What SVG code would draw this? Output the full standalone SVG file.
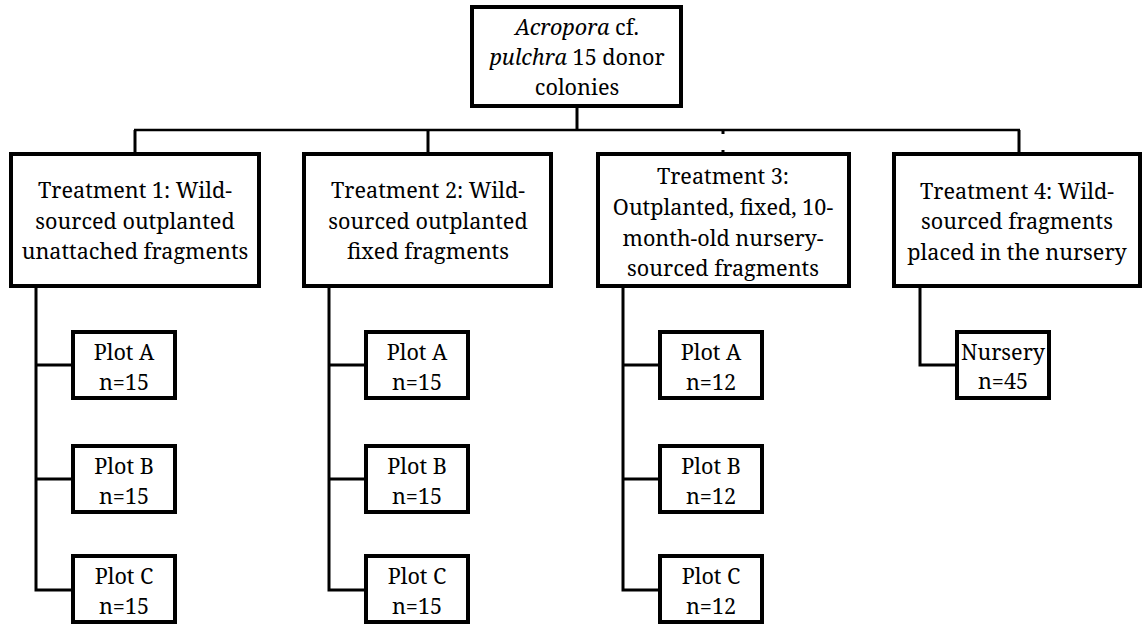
<svg xmlns="http://www.w3.org/2000/svg" width="1143" height="627" viewBox="0 0 1143 627">
<style>
.box{fill:#fff;stroke:#000;stroke-width:4}
.t{font-family:'Noto Serif','Liberation Serif','Times New Roman',serif;font-size:21.6px;fill:#000;text-anchor:middle}
.i{font-style:italic}
.c{fill:none;stroke:#000;stroke-width:3}
.h{fill:none;stroke:#000;stroke-width:2.5}
</style>
<rect width="1143" height="627" fill="#fff"/>
<g id="connectors">
<line class="c" x1="577" y1="106" x2="577" y2="131"/>
<line class="h" x1="134" y1="130" x2="1020" y2="130"/>
<line class="c" x1="135" y1="130" x2="135" y2="154"/>
<line class="c" x1="428" y1="130" x2="428" y2="154"/>
<line class="c" x1="723" y1="130" x2="723" y2="134"/>
<line class="c" x1="723" y1="150" x2="723" y2="154"/>
<line class="c" x1="1019" y1="130" x2="1019" y2="154"/>
<polyline class="c" points="36,286 36,590 73,590"/>
<line class="c" x1="36" y1="365" x2="73" y2="365"/>
<line class="c" x1="36" y1="479" x2="73" y2="479"/>
<polyline class="c" points="329,286 329,590 366,590"/>
<line class="c" x1="329" y1="365" x2="366" y2="365"/>
<line class="c" x1="329" y1="479" x2="366" y2="479"/>
<polyline class="c" points="623,286 623,590 660,590"/>
<line class="c" x1="623" y1="365" x2="660" y2="365"/>
<line class="c" x1="623" y1="479" x2="660" y2="479"/>
<polyline class="c" points="920,286 920,365 957,365"/>
</g>
<g id="root">
<rect class="box" x="472" y="7" width="209" height="99"/>
<text class="t" x="577" y="35"><tspan class="i">Acropora</tspan> cf.</text>
<text class="t" x="577" y="65"><tspan class="i">pulchra</tspan> 15 donor</text>
<text class="t" x="577" y="95">colonies</text>
</g>
<g id="treatment1">
<rect class="box" x="11" y="154" width="248" height="132"/>
<text class="t" x="135" y="198">Treatment 1: Wild-</text>
<text class="t" x="135" y="229">sourced outplanted</text>
<text class="t" x="135" y="259">unattached fragments</text>
</g>
<g id="treatment2">
<rect class="box" x="304" y="154" width="247" height="132"/>
<text class="t" x="428" y="198">Treatment 2: Wild-</text>
<text class="t" x="428" y="229">sourced outplanted</text>
<text class="t" x="428" y="259">fixed fragments</text>
</g>
<g id="treatment3">
<rect class="box" x="598" y="154" width="251" height="132"/>
<text class="t" x="723" y="184">Treatment 3:</text>
<text class="t" x="723" y="215">Outplanted, fixed, 10-</text>
<text class="t" x="723" y="246">month-old nursery-</text>
<text class="t" x="723" y="276">sourced fragments</text>
</g>
<g id="treatment4">
<rect class="box" x="894" y="154" width="246" height="132"/>
<text class="t" x="1017" y="199">Treatment 4: Wild-</text>
<text class="t" x="1017" y="229">sourced fragments</text>
<text class="t" x="1017" y="260">placed in the nursery</text>
</g>
<g id="t1-plotA"><rect class="box" x="73" y="332" width="102" height="66"/><text class="t" x="124" y="360">Plot A</text><text class="t" x="124" y="390">n=15</text></g>
<g id="t1-plotB"><rect class="box" x="73" y="446" width="102" height="66"/><text class="t" x="124" y="474">Plot B</text><text class="t" x="124" y="504">n=15</text></g>
<g id="t1-plotC"><rect class="box" x="73" y="556" width="102" height="66"/><text class="t" x="124" y="584">Plot C</text><text class="t" x="124" y="614">n=15</text></g>
<g id="t2-plotA"><rect class="box" x="366" y="332" width="102" height="66"/><text class="t" x="417" y="360">Plot A</text><text class="t" x="417" y="390">n=15</text></g>
<g id="t2-plotB"><rect class="box" x="366" y="446" width="102" height="66"/><text class="t" x="417" y="474">Plot B</text><text class="t" x="417" y="504">n=15</text></g>
<g id="t2-plotC"><rect class="box" x="366" y="556" width="102" height="66"/><text class="t" x="417" y="584">Plot C</text><text class="t" x="417" y="614">n=15</text></g>
<g id="t3-plotA"><rect class="box" x="660" y="332" width="102" height="66"/><text class="t" x="711" y="360">Plot A</text><text class="t" x="711" y="390">n=12</text></g>
<g id="t3-plotB"><rect class="box" x="660" y="446" width="102" height="66"/><text class="t" x="711" y="474">Plot B</text><text class="t" x="711" y="504">n=12</text></g>
<g id="t3-plotC"><rect class="box" x="660" y="556" width="102" height="66"/><text class="t" x="711" y="584">Plot C</text><text class="t" x="711" y="614">n=12</text></g>
<g id="t4-nursery"><rect class="box" x="957" y="332" width="92" height="66"/><text class="t" x="1003" y="360">Nursery</text><text class="t" x="1003" y="389">n=45</text></g>
</svg>
